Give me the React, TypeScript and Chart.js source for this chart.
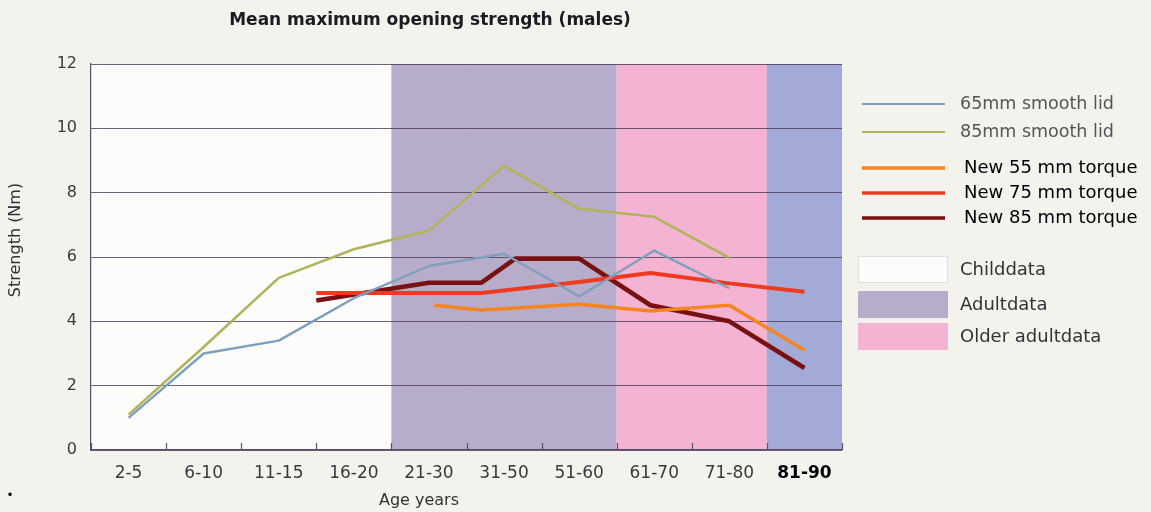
import { useEffect, useRef } from 'react';
import { Chart, registerables } from 'chart.js';

Chart.register(...registerables);

// ---- data ----
const ageGroups = ['2-5', '6-10', '11-15', '16-20', '21-30', '31-50', '51-60', '61-70', '71-80', '81-90'];
const smooth65 = [1.0, 3.0, 3.4, 4.72, 5.72, 6.1, 4.77, 6.2, 5.03, null];
const smooth85 = [1.1, 3.2, 5.35, 6.24, 6.82, 8.83, 7.5, 7.25, 5.97, null];

// torque series are plotted at positions measured in age-group index units
const torque55Pos = [4.07, 4.7, 6.0, 6.95, 8.0, 9.0];
const torque55 = [4.5, 4.35, 4.53, 4.32, 4.5, 3.1];
const torque75Pos = [2.5, 4.0, 4.7, 6.0, 6.95, 8.0, 9.0];
const torque75 = [4.88, 4.88, 4.88, 5.22, 5.5, 5.18, 4.92];
const torque85Pos = [2.5, 4.0, 4.7, 5.15, 6.0, 6.95, 8.0, 9.0];
const torque85 = [4.65, 5.2, 5.2, 5.95, 5.95, 4.5, 4.0, 2.55];

const yMin = 0;
const yMax = 12;
const yStep = 2;

const bandLabels = ['Childdata', 'Adultdata', 'Older adultdata', ''];
const bandFrom = [-0.5, 3.5, 6.5, 8.5];
const bandTo = [3.5, 6.5, 8.5, 9.5];
const bandColors = ['#fcfcfa', '#b7acc9', '#f4b3d2', '#a3aad8'];

const FONT = 'DejaVu Sans';

const pairs = (xs: number[], ys: number[]) => xs.map((x, i) => ({ x, y: ys[i] }));

const decorPlugin = {
  id: 'decor',
  beforeDraw(chart: any) {
    const { ctx, chartArea, scales } = chart;
    ctx.save();
    ctx.fillStyle = '#f3f2ed';
    ctx.fillRect(0, 0, chart.width, chart.height);
    const xl = scales.xl;
    bandFrom.forEach((from, i) => {
      const x0 = xl.getPixelForValue(from);
      const x1 = xl.getPixelForValue(bandTo[i]);
      ctx.fillStyle = bandColors[i];
      ctx.fillRect(x0, chartArea.top, x1 - x0, chartArea.bottom - chartArea.top);
    });
    ctx.restore();
  },
  afterDraw(chart: any) {
    const { ctx, chartArea, scales } = chart;
    const xl = scales.xl;
    ctx.save();
    // inner tick marks at group boundaries
    ctx.strokeStyle = '#5a4f6a';
    ctx.lineWidth = 1.2;
    for (let i = 0; i <= ageGroups.length; i++) {
      const x = Math.round(xl.getPixelForValue(i - 0.5)) + 0.5;
      ctx.beginPath();
      ctx.moveTo(x, chartArea.bottom);
      ctx.lineTo(x, chartArea.bottom - 7);
      ctx.stroke();
    }

    // title
    ctx.fillStyle = '#1e1a22';
    ctx.font = `bold 17px "${FONT}"`;
    ctx.textAlign = 'center';
    ctx.textBaseline = 'middle';
    ctx.fillText('Mean maximum opening strength (males)', 430, 21);

    // axis titles
    ctx.fillStyle = '#333';
    ctx.font = `16px "${FONT}"`;
    ctx.fillText('Age years', 419, 501);
    ctx.save();
    ctx.translate(16, 240);
    ctx.rotate(-Math.PI / 2);
    ctx.font = `16px "${FONT}"`;
    ctx.fillText('Strength (Nm)', 0, 0);
    ctx.restore();

    ctx.font = `12px "${FONT}"`;
    ctx.fillStyle = '#000';
    ctx.fillText('•', 10, 496);

    // line legend
    const lineY = [104, 132, 168, 193, 218];
    ctx.textAlign = 'left';
    chart.data.datasets.forEach((ds: any, i: number) => {
      const y = lineY[i];
      ctx.strokeStyle = ds.borderColor;
      ctx.lineWidth = i < 2 ? 2 : 3.5;
      ctx.beginPath();
      ctx.moveTo(862, y);
      ctx.lineTo(945, y);
      ctx.stroke();
      ctx.fillStyle = i < 2 ? '#555' : '#000';
      ctx.font = i < 2 ? `17.5px "${FONT}"` : `18px "${FONT}"`;
      ctx.fillText(ds.label, i < 2 ? 960 : 964, y);
    });

    // band legend
    const boxTop = [256, 291, 323];
    const textY = [270, 305, 337];
    for (let i = 0; i < 3; i++) {
      ctx.fillStyle = bandColors[i];
      ctx.fillRect(858, boxTop[i], 90, 27);
      if (i === 0) {
        ctx.strokeStyle = '#e2ddd8';
        ctx.lineWidth = 1;
        ctx.strokeRect(858.5, boxTop[i] + 0.5, 89, 26);
      }
      ctx.fillStyle = '#333';
      ctx.font = `18px "${FONT}"`;
      ctx.fillText(bandLabels[i], 960, textY[i]);
    }
    ctx.restore();
  },
};

export default function App() {
  const ref = useRef<HTMLCanvasElement | null>(null);

  useEffect(() => {
    document.body.style.margin = '0';
    if (!ref.current) return;
    Chart.defaults.font.family = FONT;
    const chart = new Chart(ref.current, {
      type: 'line',
      data: {
        labels: ageGroups,
        datasets: [
          {
            label: '65mm smooth lid',
            data: smooth65,
            borderColor: '#7fa0bb',
            borderWidth: 2.4,
            pointRadius: 0,
            xAxisID: 'x',
          },
          {
            label: '85mm smooth lid',
            data: smooth85,
            borderColor: '#b1b45c',
            borderWidth: 2.6,
            pointRadius: 0,
            xAxisID: 'x',
          },
          {
            label: 'New 55 mm torque',
            data: pairs(torque55Pos, torque55),
            borderColor: '#f5861f',
            borderWidth: 3.5,
            pointRadius: 0,
            xAxisID: 'xl',
          },
          {
            label: 'New 75 mm torque',
            data: pairs(torque75Pos, torque75),
            borderColor: '#ee3b1f',
            borderWidth: 4,
            pointRadius: 0,
            xAxisID: 'xl',
          },
          {
            label: 'New 85 mm torque',
            data: pairs(torque85Pos, torque85),
            borderColor: '#781212',
            borderWidth: 4.6,
            pointRadius: 0,
            xAxisID: 'xl',
          },
        ] as any,
      },
      options: {
        animation: false,
        responsive: true,
        maintainAspectRatio: false,
        layout: { padding: { top: 64, right: 309, left: 0, bottom: 0 } },
        plugins: {
          legend: { display: false },
          title: { display: false },
          tooltip: { enabled: false },
        },
        elements: { line: { tension: 0, borderJoinStyle: 'round', borderCapStyle: 'butt' } },
        scales: {
          x: {
            type: 'category',
            offset: true,
            grid: { display: false, drawTicks: false },
            border: { display: true, color: '#5a4f6a', width: 1.2 },
            ticks: {
              autoSkip: false,
              maxRotation: 0,
              padding: 13,
              color: (c: any) => (c.index === ageGroups.length - 1 ? '#000' : '#3a3a3a'),
              font: (c: any) =>
                c.index === ageGroups.length - 1
                  ? { size: 17, weight: 'bold', family: FONT }
                  : { size: 17, family: FONT },
            },
            afterFit: (s: any) => {
              s.height = 62;
            },
          },
          xl: {
            type: 'linear',
            display: false,
            min: -0.5,
            max: ageGroups.length - 0.5,
          },
          y: {
            min: yMin,
            max: yMax,
            ticks: { stepSize: yStep, padding: 14, color: '#3a3a3a', font: { size: 16, family: FONT } },
            grid: { color: 'rgba(70,58,88,0.8)', lineWidth: 1, drawTicks: false },
            border: { display: true, color: '#5a4f6a', width: 1.2 },
            afterFit: (s: any) => {
              s.width = 91;
            },
          },
        },
      },
      plugins: [decorPlugin],
    });
    return () => chart.destroy();
  }, []);

  return (
    <div style={{ position: 'relative', width: 1151, height: 512 }}>
      <canvas ref={ref} />
    </div>
  );
}
